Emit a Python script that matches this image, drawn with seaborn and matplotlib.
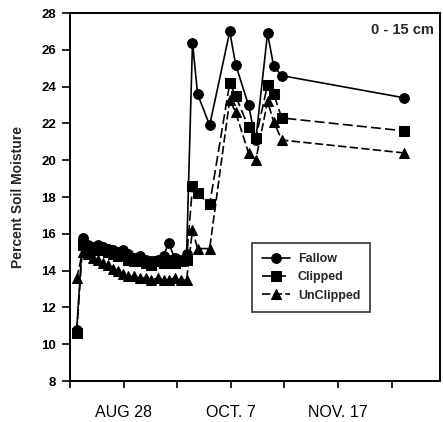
import numpy as np
import pandas as pd
import matplotlib
matplotlib.use("Agg")
import matplotlib.pyplot as plt
import seaborn as sns

# Days relative to Aug 28
days = [-17.5, -15.3, -13.4, -11.6, -9.7, -7.8, -6.0, -4.1, -2.2, -0.4, 1.5, 3.7,
        6.0, 8.2, 10.4, 12.7, 14.9, 16.8, 19.0, 21.3, 23.5,
        25.7, 27.6, 32.1, 39.6, 41.8, 46.6, 49.3, 53.7, 56.0, 59.0, 104.5]

fallow = [10.8, 15.8, 15.4, 15.3, 15.4, 15.3, 15.2, 15.1, 15.0, 15.1, 14.9, 14.7,
          14.8, 14.6, 14.5, 14.6, 14.8, 15.5, 14.7, 14.6, 14.9,
          26.4, 23.6, 21.9, 27.0, 25.2, 23.0, 21.1, 26.9, 25.1, 24.6, 23.4]

clipped = [10.6, 15.4, 15.2, 15.1, 15.2, 15.1, 15.0, 14.9, 14.8, 14.8, 14.6, 14.5,
           14.5, 14.4, 14.3, 14.5, 14.4, 14.6, 14.4, 14.5, 14.6,
           18.6, 18.2, 17.6, 24.2, 23.5, 21.8, 21.2, 24.1, 23.6, 22.3, 21.6]

unclipped = [13.6, 15.0, 14.9, 14.7, 14.6, 14.4, 14.3, 14.1, 14.0, 13.8, 13.7, 13.7,
             13.6, 13.6, 13.5, 13.6, 13.5, 13.5, 13.6, 13.5, 13.5,
             16.2, 15.2, 15.2, 23.3, 22.6, 20.4, 20.0, 23.2, 22.1, 21.1, 20.4]

x_ticks = [-20, 0, 20, 40, 60, 80, 100]
x_tick_labels = ["", "AUG 28", "", "OCT. 7", "", "NOV. 17", ""]
y_ticks = [8, 10, 12, 14, 16, 18, 20, 22, 24, 26, 28]

sns.set_theme(style="white")
plt.rcParams['font.family'] = ['Liberation Sans', 'DejaVu Sans']

fig = plt.figure(figsize=(4.43, 4.22), dpi=100)
ax = fig.add_axes([0.158, 0.097, 0.835, 0.872])

df = pd.DataFrame({"day": days, "Fallow": fallow, "Clipped": clipped, "UnClipped": unclipped})

sns.lineplot(data=df, x="day", y="Fallow", ax=ax, color="black", marker="o",
             markersize=7, linewidth=1.2, linestyle="-", estimator=None, sort=False,
             markeredgecolor="black", label="Fallow")
sns.lineplot(data=df, x="day", y="Clipped", ax=ax, color="black", marker="s",
             markersize=6.5, linewidth=1.2, dashes=(6, 2.5), estimator=None, sort=False,
             markeredgecolor="black", label="Clipped")
sns.lineplot(data=df, x="day", y="UnClipped", ax=ax, color="black", marker="^",
             markersize=7, linewidth=1.2, dashes=(5, 2), estimator=None, sort=False,
             markeredgecolor="black", label="UnClipped")

ax.set_xlim(-20, 118)
ax.set_ylim(8, 28)
ax.set_xticks(x_ticks)
ax.set_xticklabels(x_tick_labels, fontsize=11.5)
ax.set_yticks(y_ticks)
ax.set_yticklabels([str(v) for v in y_ticks], fontsize=9.5, fontweight="bold")
ax.tick_params(axis="x", direction="out", length=5, width=1.2, pad=12, colors="black")
ax.tick_params(axis="y", direction="out", length=6, width=1.2, pad=4, colors="black")
ax.tick_params(left=True, bottom=True)
for s in ax.spines.values():
    s.set_color("black")
    s.set_linewidth(1.4)

ax.set_xlabel("")
ax.set_ylabel("Percent Soil Moisture", fontsize=10, fontweight="bold", labelpad=12)

ax.text(0.985, 0.955, "0 - 15 cm", transform=ax.transAxes, ha="right", va="center",
        fontsize=10.5, fontweight="bold")

leg = ax.legend(loc="upper left", bbox_to_anchor=(0.474, 0.392), frameon=True,
                fancybox=False, edgecolor="black", fontsize=9, handlelength=2.3,
                borderpad=0.8, labelspacing=0.5, handletextpad=0.6)
leg.get_frame().set_linewidth(1.2)
for t in leg.get_texts():
    t.set_fontweight("bold")

fig.savefig("out.png", dpi=100)
